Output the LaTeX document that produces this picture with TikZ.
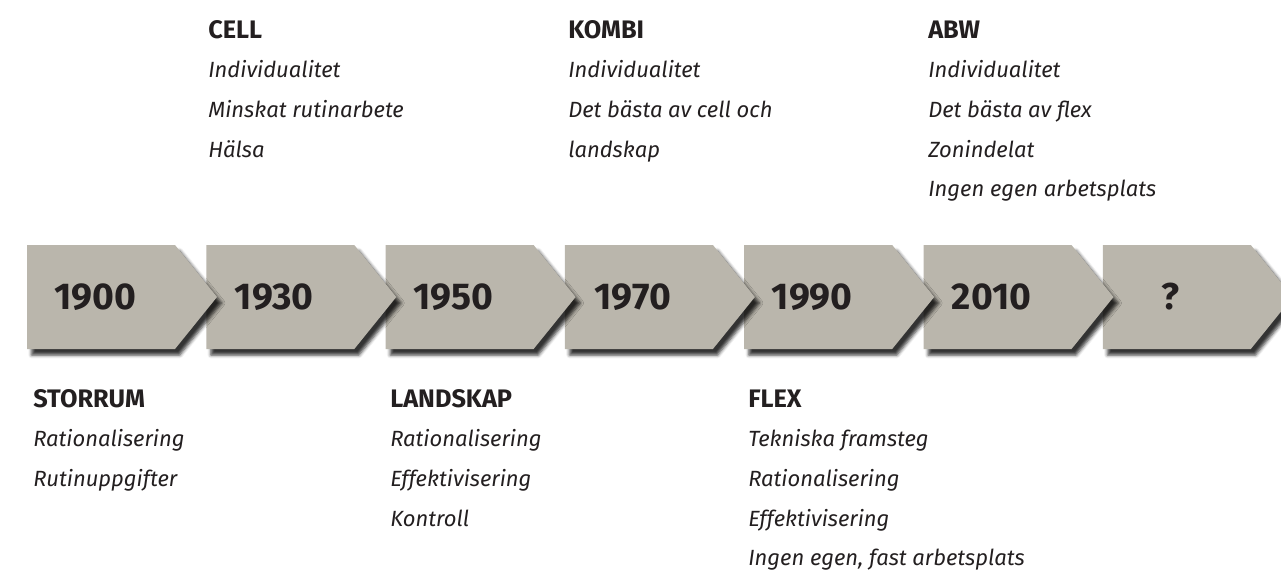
\documentclass[tikz,border=0pt]{standalone}
\usepackage{fontspec}
\setmainfont{Fira Sans}
\usetikzlibrary{shadows.blur}
\definecolor{chevron}{HTML}{BAB6AC}
\definecolor{ink}{HTML}{231F20}
\tikzset{
        yearbox/.style={
            fill=chevron,
            blur shadow={shadow xshift=3.5pt, shadow yshift=-4.5pt,
                shadow blur radius=2.5pt, shadow opacity=80},
        },
    }

\begin{document}
\begin{tikzpicture}[
          x=0.75pt, y=-0.75pt,
          year/.style = {anchor=base, inner sep=0pt, text=ink, font=\bfseries\fontsize{28}{28}\selectfont},
          head/.style = {anchor=base west, inner sep=0pt, text=ink, font=\bfseries\fontsize{19}{19}\selectfont},
          item/.style = {anchor=base west, inner sep=0pt, text=ink, font=\itshape\fontsize{16.5}{16.5}\selectfont}
          ]
 \useasboundingbox (0,0) rectangle (1281,569);
          % chevrons, right to left so every tip lies on the next one
          \foreach \i/\yr/\nm in {6/?/yq,5/2010/y2010,4/1990/y1990,3/1970/y1970,2/1950/y1950,1/1930/y1930,0/1900/y1900}{
            \pgfmathsetmacro\L{27+179.3*\i}
            \path[yearbox] (\L,245) -- ++(148,0) -- ++(42,52) -- ++(-42,52) -- ++(-148,0) -- cycle;
            \node[year] (\nm) at (\L+68,309) {\yr};
          }
          % headings with their keywords
          \foreach \nm/\x/\y/\hd/\items in {
              cell/208/38/CELL/{Individualitet, Minskat rutinarbete, Hälsa},
              kombi/568/38/KOMBI/{Individualitet, Det bästa av cell och, landskap},
              abw/928/38/ABW/{Individualitet, Det bästa av flex, Zonindelat, Ingen egen arbetsplats},
              storrum/33/407/STORRUM/{Rationalisering, Rutinuppgifter},
              landskap/390/407/LANDSKAP/{Rationalisering, Effektivisering, Kontroll},
              flex/748/407/FLEX/{Tekniska framsteg, Rationalisering, Effektivisering, {Ingen egen, fast arbetsplats}}}{
            \node[head] (\nm) at (\x,\y) {\hd};
            \foreach \t [count=\k] in \items
              \node[item] (\nm-\k) at (\x,\y+39.7*\k) {\t};
          }
        \end{tikzpicture}
\end{document}
